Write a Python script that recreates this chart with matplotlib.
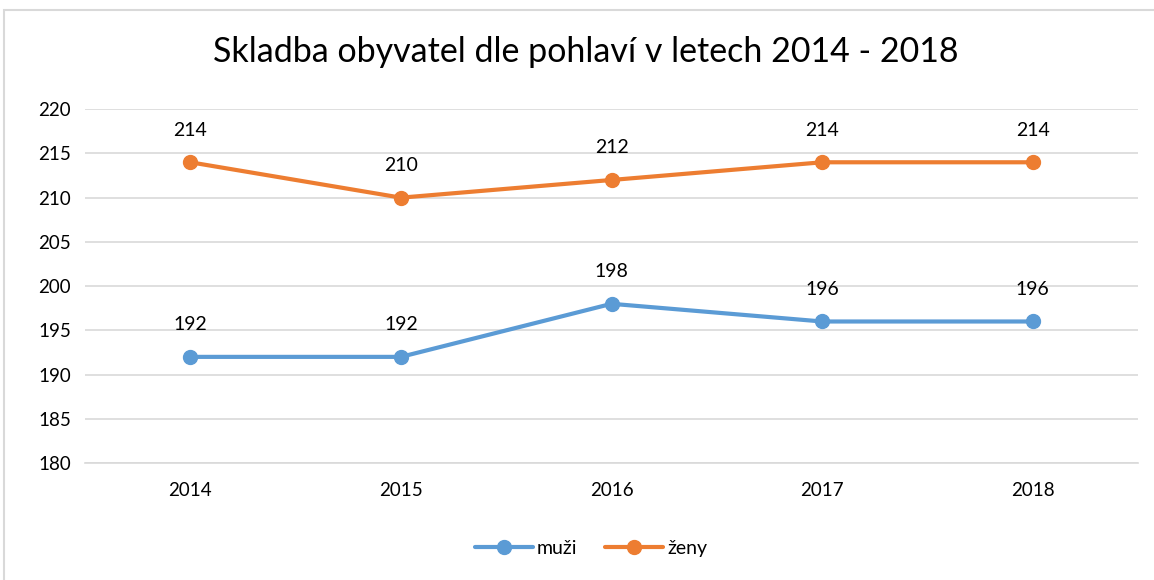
import matplotlib.pyplot as plt
from matplotlib.patches import Rectangle

years = ['2014', '2015', '2016', '2017', '2018']
muzi = [192, 192, 198, 196, 196]
zeny = [214, 210, 212, 214, 214]

plt.rcParams['font.family'] = ['Lato', 'DejaVu Sans']

fig = plt.figure(figsize=(11.54, 5.80), dpi=100)
ax = fig.add_axes([0.0737, 0.2017, 0.9125, 0.61])

# chart border like Excel frame
fig.patches.append(Rectangle((4 / 1154, -0.1), 1.2, 1 - 10 / 580 + 0.1,
                             transform=fig.transFigure, fill=False,
                             edgecolor='#d9d9d9', linewidth=1.5))

x = range(len(years))
ax.plot(x, muzi, color='#5B9BD5', lw=3, marker='o', ms=10, label='muži',
        solid_capstyle='round')
ax.plot(x, zeny, color='#ED7D31', lw=3, marker='o', ms=10, label='ženy',
        solid_capstyle='round')

for series in (muzi, zeny):
    for xi, v in zip(x, series):
        ax.annotate(str(v), (xi, v), xytext=(0, 17), textcoords='offset points',
                    ha='center', va='bottom', fontsize=14)

ax.set_xlim(-0.5, 4.5)
ax.set_ylim(180, 220)
ax.set_yticks(range(180, 221, 5))
ax.set_xticks(list(x))
ax.set_xticklabels(years)
ax.tick_params(length=0, labelsize=13.5, pad=14)
ax.tick_params(axis='y', pad=10)
ax.grid(axis='y', color='#d9d9d9', lw=1.2)
ax.set_axisbelow(True)
for s in ax.spines.values():
    s.set_visible(False)
ax.spines['bottom'].set_visible(True)
ax.spines['bottom'].set_color('#d9d9d9')
ax.spines['bottom'].set_linewidth(1.2)

fig.text(0.508, 0.91, 'Skladba obyvatel dle pohlaví v letech 2014 - 2018',
         ha='center', va='center', fontsize=24.5)

fig.legend(loc='center', bbox_to_anchor=(0.512, 0.055), ncol=2, frameon=False,
           fontsize=14, handlelength=3.0, columnspacing=1.4, handletextpad=0.2)

fig.savefig('out.png', dpi=100)
